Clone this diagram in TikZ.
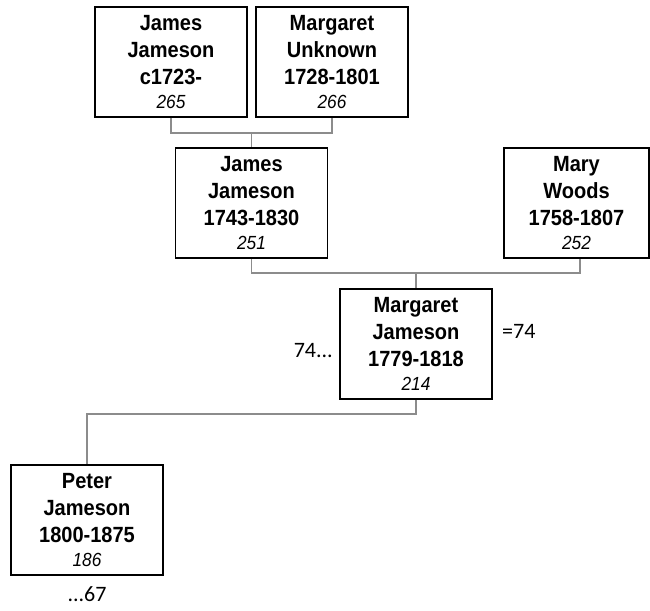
\documentclass[tikz,border=0pt]{standalone}
\usepackage{fontspec}
\setmainfont{Liberation Sans}[FakeStretch=0.91]
\newfontfamily\notefont{Carlito}
\usetikzlibrary{positioning, calc}

\newcommand{\refno}[1]{{\mdseries\itshape\fontsize{19}{24}\selectfont #1}}

\tikzset{
  person/.style={draw=black, line width=1.5pt, minimum width=152, minimum height=110,
    align=center, inner sep=0pt, font=\bfseries\fontsize{22}{27}\selectfont},
  link/.style={draw=gray!90, line width=1.5pt},
  note/.style={inner sep=0pt, font=\notefont\fontsize{22}{26}\selectfont}
}

\begin{document}
\begin{tikzpicture}[x=1pt, y=-1pt]
\useasboundingbox (0,0) rectangle (650,610);
% Grandparents
\node[person] (jj1723) at (171,62) {James\\Jameson\\c1723-\\[-3pt]\refno{265}};
\node[person] (mu1728) at (332,62) {Margaret\\Unknown\\1728-1801\\[-3pt]\refno{266}};
% Parents
\node[person] (jj1743) at (251.5,203) {James\\Jameson\\1743-1830\\[-3pt]\refno{251}};
\node[person, minimum width=145] (mw1758) at (576.5,203) {Mary\\Woods\\1758-1807\\[-3pt]\refno{252}};
% Centre person
\node[person] (mj1779) at (416,344) {Margaret\\Jameson\\1779-1818\\[-3pt]\refno{214}};
% Child
\node[person] (pj1800) at (87,520) {Peter\\Jameson\\1800-1875\\[-3pt]\refno{186}};
% Junctions
\coordinate (fam1) at (251.5,133);
\coordinate (fam2) at (416,273);
\coordinate (fam3) at (416,414);
% Connectors
\draw[link] (jj1723.south) |- (fam1) -| (mu1728.south);
\draw[link] (fam1) -- (jj1743.north);
\draw[link] (jj1743.south) |- (fam2) -| ($(mw1758.south)+(3.5,0)$);
\draw[link] (fam2) -- (mj1779.north);
\draw[link] (mj1779.south) -- (fam3) -| (pj1800.north);
% Cross references
\node[note, anchor=base east] (ref74a) at (333,357) {74...};
\node[note, anchor=base west] (ref74b) at (502,338) {=74};
\node[note, anchor=base] (ref67) at (87,601) {...67};
\end{tikzpicture}
\end{document}
